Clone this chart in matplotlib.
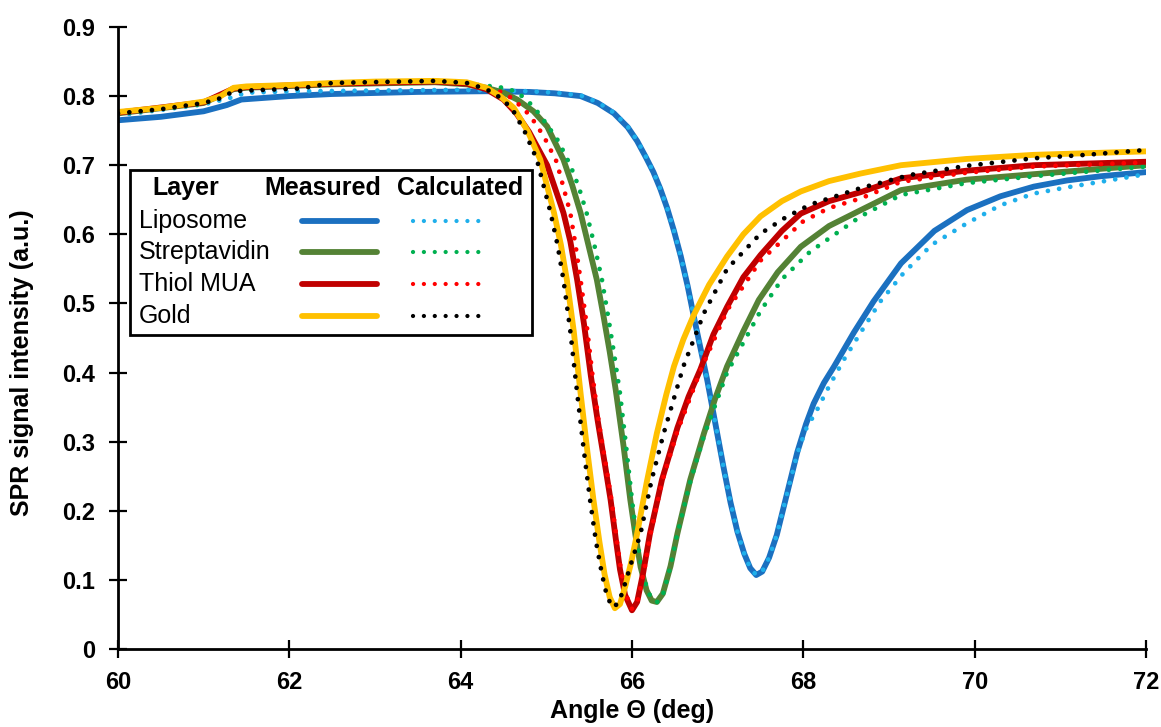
"""
SPR reflectivity curves: measured vs calculated for each deposited layer.
"""

import matplotlib
matplotlib.use("Agg")
import matplotlib.pyplot as plt
from matplotlib.patches import Rectangle
from matplotlib.lines import Line2D

plt.rcParams['font.family'] = ['Liberation Sans', 'DejaVu Sans']

# ----- Data -----

# Liposome, measured
lip_meas_x = [60.0, 60.5, 61.0, 61.27, 61.44, 62.0, 62.5, 63.5, 64.3, 64.8, 65.1, 65.4, 65.6,
              65.79, 65.95, 66.06, 66.16, 66.25, 66.33, 66.41, 66.49, 66.57, 66.65, 66.72,
              66.8, 66.88, 66.99, 67.07, 67.15, 67.23, 67.31, 67.38, 67.45, 67.52, 67.6,
              67.69, 67.8, 67.93, 68.03, 68.12, 68.24, 68.36, 68.59, 68.82, 69.14, 69.53,
              69.91, 70.3, 70.69, 71.08, 71.47, 72.0]
lip_meas_y = [0.765, 0.770, 0.778, 0.787, 0.795, 0.800, 0.803, 0.806, 0.807, 0.806, 0.804, 0.800, 0.790,
              0.775, 0.755, 0.735, 0.712, 0.690, 0.666, 0.638, 0.605, 0.568, 0.525, 0.482,
              0.435, 0.388, 0.315, 0.262, 0.212, 0.170, 0.138, 0.117, 0.107, 0.112, 0.132,
              0.165, 0.220, 0.285, 0.325, 0.355, 0.385, 0.409, 0.458, 0.503, 0.558, 0.605,
              0.635, 0.655, 0.669, 0.678, 0.684, 0.690]

# Liposome, calculated
lip_calc_x = [60.0, 61.0, 61.3, 61.5, 62.13, 63.0, 64.0, 64.8, 65.1, 65.4, 65.6,
              65.79, 65.95, 66.06, 66.16, 66.25, 66.33, 66.41, 66.49, 66.57, 66.65, 66.72,
              66.8, 66.88, 66.99, 67.07, 67.15, 67.23, 67.31, 67.38, 67.45, 67.52, 67.6,
              67.69, 67.8, 67.93, 68.03, 68.16, 68.3, 68.47, 68.71, 68.9, 69.17, 69.5,
              69.91, 70.3, 70.69, 71.08, 71.47, 72.0]
lip_calc_y = [0.772, 0.788, 0.797, 0.805, 0.807, 0.808, 0.809, 0.807, 0.805, 0.801, 0.791,
              0.776, 0.756, 0.736, 0.713, 0.690, 0.666, 0.638, 0.605, 0.568, 0.525, 0.482,
              0.435, 0.388, 0.315, 0.262, 0.212, 0.170, 0.138, 0.117, 0.107, 0.112, 0.132,
              0.165, 0.220, 0.283, 0.318, 0.346, 0.380, 0.418, 0.466, 0.503, 0.544, 0.585,
              0.616, 0.642, 0.659, 0.668, 0.676, 0.687]

# Streptavidin, measured
str_meas_x = [60.0, 61.0, 61.35, 61.5, 62.5, 63.7, 64.07, 64.3, 64.5, 64.66, 64.85, 65.01, 65.2,
              65.3, 65.4, 65.5, 65.59, 65.67, 65.74, 65.81, 65.9, 65.98, 66.04, 66.1, 66.17,
              66.23, 66.29, 66.36, 66.45, 66.53, 66.68, 66.84, 66.97, 67.11, 67.3, 67.48,
              67.7, 67.97, 68.3, 68.67, 69.14, 69.9, 70.69, 72.0]
str_meas_y = [0.775, 0.790, 0.810, 0.812, 0.817, 0.820, 0.817, 0.812, 0.805, 0.795, 0.778, 0.756, 0.708,
              0.672, 0.631, 0.580, 0.534, 0.480, 0.430, 0.375, 0.295, 0.216, 0.165, 0.119, 0.085,
              0.070, 0.068, 0.080, 0.120, 0.167, 0.245, 0.312, 0.362, 0.409, 0.460, 0.505,
              0.545, 0.582, 0.612, 0.635, 0.664, 0.679, 0.687, 0.700]

# Streptavidin, calculated
str_calc_x = [60.0, 61.0, 61.35, 61.5, 62.5, 63.7, 64.3, 64.5, 64.66, 64.85, 65.0, 65.14,
              65.28, 65.38, 65.47, 65.56, 65.65, 65.73, 65.8, 65.86, 65.93, 66.0, 66.05,
              66.11, 66.18, 66.24, 66.3, 66.37, 66.45, 66.53, 66.68, 66.84, 67.11, 67.5,
              67.75, 68.08, 68.67, 69.14, 69.9, 70.69, 72.0]
str_calc_y = [0.774, 0.789, 0.808, 0.811, 0.817, 0.821, 0.815, 0.812, 0.806, 0.785, 0.760, 0.735,
              0.700, 0.668, 0.631, 0.585, 0.534, 0.475, 0.420, 0.370, 0.295, 0.216, 0.165,
              0.119, 0.085, 0.070, 0.068, 0.082, 0.120, 0.167, 0.242, 0.308, 0.400, 0.489,
              0.535, 0.575, 0.626, 0.657, 0.674, 0.684, 0.698]

# Thiol MUA, measured
thi_meas_x = [60.0, 61.0, 61.35, 61.5, 62.5, 63.7, 64.07, 64.3, 64.5, 64.65, 64.8, 65.01, 65.2,
              65.28, 65.36, 65.44, 65.52, 65.6, 65.68, 65.75, 65.81, 65.86, 65.92, 66.0,
              66.06, 66.13, 66.21, 66.35, 66.53, 66.66, 66.8, 66.95, 67.11, 67.3, 67.5,
              67.75, 67.97, 68.3, 68.67, 69.14, 69.9, 70.69, 72.0]
thi_meas_y = [0.776, 0.791, 0.811, 0.813, 0.818, 0.821, 0.818, 0.810, 0.795, 0.775, 0.748, 0.700, 0.631,
              0.590, 0.534, 0.470, 0.395, 0.330, 0.270, 0.216, 0.160, 0.115, 0.078, 0.056,
              0.068, 0.110, 0.167, 0.245, 0.320, 0.365, 0.405, 0.455, 0.495, 0.538, 0.570,
              0.605, 0.630, 0.648, 0.661, 0.681, 0.692, 0.700, 0.705]

# Thiol MUA, calculated
thi_calc_x = [60.0, 61.0, 61.35, 61.5, 62.5, 63.7, 64.07, 64.31, 64.5, 64.62, 64.81, 64.97,
              65.12, 65.28, 65.34, 65.4, 65.47, 65.54, 65.61, 65.69, 65.76, 65.82, 65.87,
              65.93, 66.0, 66.07, 66.14, 66.21, 66.35, 66.53, 66.8, 67.11, 67.5, 68.0,
              68.3, 68.67, 69.14, 69.9, 70.69, 72.0]
thi_calc_y = [0.776, 0.791, 0.810, 0.813, 0.818, 0.821, 0.819, 0.812, 0.805, 0.795, 0.772, 0.742,
              0.705, 0.631, 0.585, 0.534, 0.470, 0.395, 0.330, 0.270, 0.216, 0.160, 0.115,
              0.078, 0.058, 0.072, 0.112, 0.163, 0.242, 0.315, 0.403, 0.490, 0.562, 0.619,
              0.638, 0.652, 0.676, 0.689, 0.698, 0.704]

# Gold, measured
gol_meas_x = [60.0, 60.5, 61.0, 61.2, 61.35, 61.5, 62.0, 62.5, 63.0, 63.7, 64.07, 64.3, 64.46,
              64.62, 64.78, 64.93, 65.09, 65.17, 65.24, 65.32, 65.4, 65.48, 65.55, 65.62,
              65.68, 65.74, 65.8, 65.86, 65.92, 65.99, 66.06, 66.17, 66.29, 66.4, 66.49,
              66.6, 66.72, 66.9, 67.11, 67.3, 67.5, 67.75, 67.97, 68.3, 68.67, 69.14,
              69.9, 70.69, 72.0]
gol_meas_y = [0.777, 0.783, 0.792, 0.800, 0.812, 0.814, 0.816, 0.819, 0.821, 0.822, 0.820, 0.812, 0.800,
              0.783, 0.750, 0.708, 0.631, 0.585, 0.534, 0.460, 0.370, 0.285, 0.216, 0.155,
              0.108, 0.075, 0.059, 0.065, 0.090, 0.125, 0.167, 0.240, 0.312, 0.368, 0.409,
              0.448, 0.483, 0.527, 0.568, 0.600, 0.626, 0.648, 0.662, 0.677, 0.688, 0.700,
              0.709, 0.715, 0.720]

# Gold, calculated
gol_calc_x = [60.0, 60.5, 61.0, 61.2, 61.35, 61.5, 62.13, 62.5, 63.7, 64.07, 64.3, 64.46, 64.6,
              64.75, 64.89, 65.05, 65.13, 65.2, 65.28, 65.36, 65.44, 65.51, 65.58, 65.65,
              65.71, 65.78, 65.85, 65.92, 66.0, 66.1, 66.23, 66.37, 66.6, 66.84, 67.11,
              67.5, 67.8, 68.08, 68.67, 69.25, 69.9, 70.69, 71.3, 72.0]
gol_calc_y = [0.775, 0.781, 0.790, 0.797, 0.807, 0.808, 0.811, 0.819, 0.822, 0.819, 0.810, 0.798, 0.782,
              0.748, 0.708, 0.631, 0.585, 0.534, 0.460, 0.370, 0.285, 0.216, 0.155, 0.108,
              0.075, 0.060, 0.068, 0.095, 0.128, 0.167, 0.245, 0.312, 0.409, 0.486, 0.550,
              0.601, 0.625, 0.643, 0.667, 0.686, 0.699, 0.710, 0.715, 0.722]

layers = ['Liposome', 'Streptavidin', 'Thiol MUA', 'Gold']
meas_colors = ['#1B70C0', '#548235', '#C00000', '#FFC000']
calc_colors = ['#1FAFEB', '#00B050', '#FF0000', '#000000']

SOLID_LW = 4.2
DOT_LW = 3.4
DOTS = (0, (0.01, 2.4))
FS = 18


def main():
    fig = plt.figure(figsize=(11.61, 7.27), dpi=100)
    ax = fig.add_axes([0.1016, 0.1073, 0.8855, 0.8556])

    series = [
        (lip_meas_x, lip_meas_y, lip_calc_x, lip_calc_y),
        (str_meas_x, str_meas_y, str_calc_x, str_calc_y),
        (thi_meas_x, thi_meas_y, thi_calc_x, thi_calc_y),
        (gol_meas_x, gol_meas_y, gol_calc_x, gol_calc_y),
    ]
    for (mx, my, cx, cy), mc, cc in zip(series, meas_colors, calc_colors):
        ax.plot(mx, my, color=mc, lw=SOLID_LW, solid_capstyle='round', solid_joinstyle='round')
        ax.plot(cx, cy, color=cc, lw=DOT_LW, linestyle=DOTS, dash_capstyle='round')

    ax.set_xlim(60, 72)
    ax.set_ylim(0, 0.9)
    ax.set_xticks(range(60, 73, 2))
    ax.set_yticks([i / 10 for i in range(10)])
    ax.set_yticklabels(['0'] + [f'{i / 10:.1f}' for i in range(1, 10)])

    for s in ['top', 'right']:
        ax.spines[s].set_visible(False)
    for s in ['left', 'bottom']:
        ax.spines[s].set_linewidth(2.0)
    ax.tick_params(direction='inout', length=13, width=1.6, labelsize=17)
    ax.tick_params(axis='x', pad=9)
    ax.tick_params(axis='y', pad=10)
    for lab in ax.get_xticklabels() + ax.get_yticklabels():
        lab.set_fontweight('bold')

    ax.set_xlabel('Angle \u0398 (deg)', fontsize=FS, fontweight='bold', labelpad=4)
    ax.set_ylabel('SPR signal intensity (a.u.)', fontsize=FS, fontweight='bold')
    ax.yaxis.set_label_coords(-0.082, 0.46)

    # ----- table-style legend -----
    tr = ax.transAxes
    ax.add_patch(Rectangle((0.0117, 0.505), 0.391, 0.265, transform=tr, fill=True,
                           fc='white', ec='black', lw=2.0, zorder=5))
    hy = 0.741
    ax.text(0.066, hy, 'Layer', transform=tr, ha='center', va='center',
            fontsize=FS, fontweight='bold', zorder=6)
    ax.text(0.1994, hy, 'Measured', transform=tr, ha='center', va='center',
            fontsize=FS, fontweight='bold', zorder=6)
    ax.text(0.3327, hy, 'Calculated', transform=tr, ha='center', va='center',
            fontsize=FS, fontweight='bold', zorder=6)
    rows = [0.688, 0.638, 0.587, 0.535]
    for name, ry, mc, cc in zip(layers, rows, meas_colors, calc_colors):
        ax.text(0.0204, ry, name, transform=tr, ha='left', va='center', fontsize=FS, zorder=6)
        ax.add_line(Line2D([0.179, 0.252], [ry, ry], transform=tr, color=mc, lw=SOLID_LW,
                           solid_capstyle='round', zorder=6))
        ax.add_line(Line2D([0.287, 0.352], [ry, ry], transform=tr, color=cc, lw=DOT_LW * 0.9,
                           linestyle=(0, (0.01, 2.55)), dash_capstyle='round', zorder=6))

    fig.savefig('out.png', dpi=100)


if __name__ == '__main__':
    main()
